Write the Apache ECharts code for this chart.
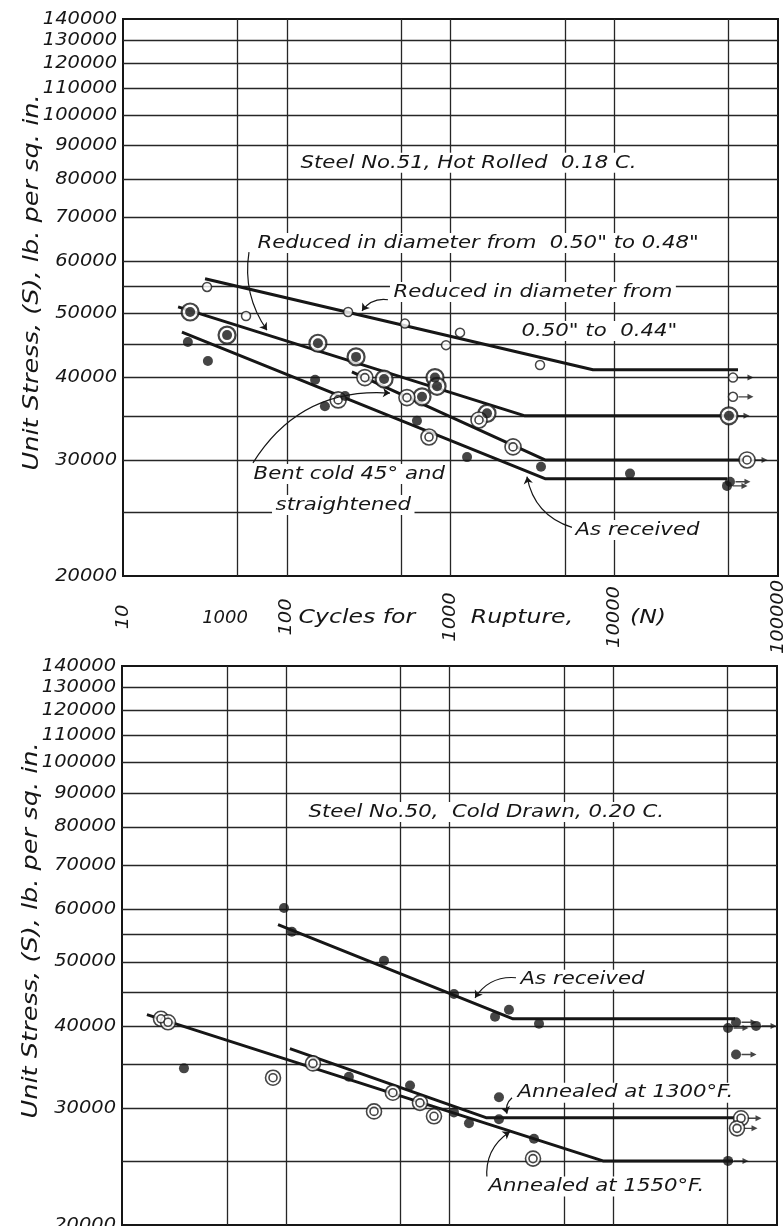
<!DOCTYPE html>
<html>
<head>
<meta charset="utf-8">
<title>S-N diagrams, Steel No.51 and Steel No.50</title>
<script src="https://cdn.jsdelivr.net/npm/echarts@6/dist/echarts.min.js"></script>
<style>
  html, body { margin: 0; padding: 0; background: #fff; }
  #chart { width: 783px; height: 1226px; }
</style>
</head>
<body>
<div id="chart"></div>
<script>
// ---------- axes ----------
const xDecades = [10, 100, 1000, 10000, 100000];
const xDecadeLabels = ['10', '100', '1000', '10000', '100000'];
const xMinorTop = [50, 500, 5000, 50000];
const xMinorBottom = [44, 500, 5000, 50000];
const yGridValues = [25000, 30000, 35000, 40000, 45000, 50000, 55000, 60000,
  70000, 80000, 90000, 100000, 110000, 120000, 130000];
const yLabelValues = [20000, 30000, 40000, 50000, 60000, 70000, 80000, 90000,
  100000, 110000, 120000, 130000, 140000];

// ---------- Steel No.51, hot rolled: test points [N, S] ----------
const s51Reduced044 = [[32.6, 54900], [56.4, 49600], [237, 50300], [527, 48300],
  [1143, 46800], [939, 44800], [3521, 41800]];
const s51Reduced044Runout = [[53100, 40000], [53100, 37400]];
const s51Reduced048 = [[25.7, 50300], [43.2, 46400], [155, 45100], [265, 43000],
  [393, 39800], [804, 40000], [828, 38800], [670, 37400], [1671, 35300]];
const s51Reduced048Runout = [[50200, 35000]];
const s51BentCold = [[300, 40000], [206, 37000], [542, 37300], [739, 32500],
  [1493, 34500], [2409, 31400]];
const s51BentColdRunout = [[64700, 30000]];
const s51AsReceived = [[24.9, 45300], [33.0, 42400], [149, 39700], [171, 36200],
  [227, 37500], [624, 34400], [1262, 30300], [3570, 29300], [12480, 28600]];
const s51AsReceivedRunout = [[48800, 27400], [50900, 27800]];

// Steel No.51 fitted S-N lines
const s51Curve044 = [[31.7, 56500], [7413, 41100], [57000, 41100]];
const s51Curve048 = [[21.7, 51200], [2851, 35000], [54600, 35000]];
const s51CurveBent = [[250, 40800], [3776, 30000], [62900, 30000]];
const s51CurveAsReceived = [[22.9, 46900], [3776, 28100], [48800, 28100]];

// ---------- Steel No.50, cold drawn: test points [N, S] ----------
const s50AsReceived = [[97.6, 60300], [109, 55500], [398, 50200], [1065, 44700],
  [1897, 41300], [2307, 42300], [3521, 40300]];
const s50AsReceivedRunout = [[50200, 39700], [56200, 40500], [74500, 40000], [56200, 36200]];
const s50Rings = [[17.3, 41000], [19.1, 40500], [83.6, 33400], [146.6, 35100],
  [451, 31700], [346, 29700], [660, 30600], [804, 29200], [3236, 25200]];
const s50RingsRunout = [[60300, 29000], [57000, 28000]];
const s50Dots = [[23.9, 34500], [243, 33500], [574, 32500], [1065, 29600],
  [1315, 28500], [2005, 31200], [2005, 28900], [3281, 27000]];
const s50DotsRunout = [[50200, 25000]];

// Steel No.50 fitted S-N lines
const s50CurveAsReceived = [[89.7, 56900], [2443, 41000], [55400, 41000]];
const s50Curve1300 = [[106, 36950], [1671, 29060], [55400, 29060]];
const s50Curve1550 = [[14.2, 41600], [8650, 25000], [53900, 25000]];

// ---------- text ----------
const yAxisTitle = 'Unit Stress, (S), lb. per sq. in.';
const xTitleParts = [['1000', 42], ['Cycles for', 268], ['Rupture,', 2733], ['(N)', 16070]];

const notesTop = [
  ['Steel No.51, Hot Rolled  0.18 C.', 115.5, 84700],
  ['Reduced in diameter from  0.50" to 0.48"', 63.1, 64000],
  ['Reduced in diameter from', 427, 53960],
  ['0.50" to  0.44"', 2584, 47080],
  ['Bent cold 45° and', 59.7, 28560],
  ['straightened', 81.3, 25640],
  ['As received', 5520, 23480]
];
const notesBottom = [
  ['Steel No.50,  Cold Drawn, 0.20 C.', 131, 84230],
  ['As received', 2584, 46960],
  ['Annealed at 1300°F.', 2477, 31700],
  ['Annealed at 1550°F.', 1648, 22860]
];

// leader arrows: [from, to, curveness]
const leadersTop = [
  [[58.8, 62000], [75.7, 47200], -0.2],
  [[415, 52500], [288, 50500], -0.3],
  [[62.2, 29700], [427, 37900], 0.3],
  [[5520, 23700], [2931, 28300], 0.3]
];
const leadersBottom = [
  [[2547, 47300], [1432, 44100], -0.3],
  [[2409, 31150], [2244, 29470], -0.3],
  [[1694, 23430], [2339, 27680], 0.3]
];

// ---------- drawing ----------
const INK = '#161616';
const FONT = '"DejaVu Sans", sans-serif';
const X_MIN = 10, X_MAX = 100000, Y_MIN = 20000, Y_MAX = 140000;
const GRIDS = [
  { left: 123, top: 19, width: 655, height: 557 },
  { left: 122, top: 666, width: 655, height: 559 }
];
const ARROW = 'path://M0,2.3 L9,2.3 L9,0 L15,3 L9,6 L9,3.7 L0,3.7 Z';

function rulings(minors) {
  const d = [];
  yGridValues.forEach(v => d.push({ coords: [[X_MIN, v], [X_MAX, v]] }));
  xDecades.slice(1, -1).concat(minors).forEach(v => d.push({ coords: [[v, Y_MIN], [v, Y_MAX]] }));
  return d;
}
function base(gi) {
  return { xAxisIndex: gi, yAxisIndex: gi, silent: true, animation: false };
}
function gridSeries(gi, minors) {
  return Object.assign(base(gi), {
    type: 'lines', coordinateSystem: 'cartesian2d', z: 1,
    symbol: ['none', 'none'],
    lineStyle: { color: '#262626', width: 1.3, opacity: 1 },
    data: rulings(minors)
  });
}
function curve(gi, data) {
  return Object.assign(base(gi), {
    type: 'line', data, symbol: 'none', z: 3,
    lineStyle: { color: INK, width: 3 }
  });
}
function dots(gi, data, size, z) {
  return Object.assign(base(gi), {
    type: 'scatter', data, symbol: 'circle', symbolSize: size, z: z || 5,
    itemStyle: { color: INK }
  });
}
function ring(gi, data, size, bw, z) {
  return Object.assign(base(gi), {
    type: 'scatter', data, symbol: 'circle', symbolSize: size, z: z || 4,
    itemStyle: { color: '#fff', borderColor: INK, borderWidth: bw }
  });
}
function arrows(gi, data) {
  return Object.assign(base(gi), {
    type: 'scatter', data, symbol: ARROW, symbolSize: [15, 6], symbolOffset: [13, 0], z: 3,
    itemStyle: { color: INK }
  });
}
function leaders(gi, list) {
  return Object.assign(base(gi), {
    type: 'lines', coordinateSystem: 'cartesian2d', z: 6,
    symbol: ['none', 'arrow'], symbolSize: 7,
    lineStyle: { color: INK, width: 1.2, opacity: 1 },
    data: list.map(l => ({ coords: [l[0], l[1]], lineStyle: { curveness: l[2] } }))
  });
}
// marker styles
function openCircle(gi, data) { return [ring(gi, data, 9, 1.5)]; }
function filledDot(gi, data) { return [dots(gi, data, 10)]; }
function bullsEye(gi, data) { return [ring(gi, data, 17, 2.2, 4), dots(gi, data, 10, 5)]; }
function doubleRing(gi, data, outer) {
  return [ring(gi, data, outer || 16, 1.6, 4), ring(gi, data, 8, 1.6, 5)];
}

const series = [].concat(
  gridSeries(0, xMinorTop),
  gridSeries(1, xMinorBottom),
  curve(0, s51Curve044), curve(0, s51Curve048), curve(0, s51CurveBent), curve(0, s51CurveAsReceived),
  curve(1, s50CurveAsReceived), curve(1, s50Curve1300), curve(1, s50Curve1550),
  arrows(0, s51Reduced044Runout.concat(s51Reduced048Runout, s51BentColdRunout, s51AsReceivedRunout)),
  arrows(1, s50AsReceivedRunout.concat(s50RingsRunout, s50DotsRunout)),
  openCircle(0, s51Reduced044.concat(s51Reduced044Runout)),
  bullsEye(0, s51Reduced048.concat(s51Reduced048Runout)),
  doubleRing(0, s51BentCold.concat(s51BentColdRunout)),
  filledDot(0, s51AsReceived.concat(s51AsReceivedRunout)),
  filledDot(1, s50AsReceived.concat(s50AsReceivedRunout)),
  doubleRing(1, s50Rings.concat(s50RingsRunout), 15),
  filledDot(1, s50Dots.concat(s50DotsRunout)),
  leaders(0, leadersTop),
  leaders(1, leadersBottom)
);

function axisPair(gi) {
  const hidden = { show: false };
  return {
    x: { type: 'log', logBase: 10, gridIndex: gi, min: X_MIN, max: X_MAX,
      axisLine: hidden, axisTick: hidden, axisLabel: hidden, splitLine: hidden, minorSplitLine: hidden },
    y: { type: 'log', logBase: 10, gridIndex: gi, min: Y_MIN, max: Y_MAX,
      axisLine: hidden, axisTick: hidden, axisLabel: hidden, splitLine: hidden, minorSplitLine: hidden }
  };
}
const a0 = axisPair(0), a1 = axisPair(1);

const chart = echarts.init(document.getElementById('chart'), null, { renderer: 'canvas' });
chart.setOption({
  backgroundColor: '#fff',
  animation: false,
  grid: GRIDS.map(g => Object.assign({ show: true, borderColor: INK, borderWidth: 2,
    backgroundColor: 'transparent', containLabel: false }, g)),
  xAxis: [a0.x, a1.x],
  yAxis: [a0.y, a1.y],
  series
});

// ---------- labels placed through the axes ----------
// hand lettering runs wider than the screen font, so text is stretched along its baseline
const toPx = (gi, pt) => chart.convertToPixel({ gridIndex: gi }, pt);
const font = size => 'italic ' + size + 'px ' + FONT;
const graphics = [];

function text(x, y, str, size, opts) {
  opts = opts || {};
  graphics.push({
    type: 'text', x, y, z: 20, silent: true,
    rotation: opts.rotation || 0,
    scaleX: opts.stretch || 1,
    style: Object.assign({ text: str, font: font(size), fill: INK,
      textAlign: 'left', textVerticalAlign: 'middle', verticalAlign: 'middle' }, opts.style || {})
  });
}

[0, 1].forEach(gi => {
  yLabelValues.forEach(v => {
    const p = toPx(gi, [X_MIN, v]);
    text(p[0] - 6, p[1], String(v), 18, { stretch: 1.08, style: { textAlign: 'right' } });
  });
  const g = GRIDS[gi];
  text(g.left - 90, g.top + g.height * 0.473, yAxisTitle, 21,
    { rotation: Math.PI / 2, stretch: 1.22, style: { textAlign: 'center' } });
});

xDecades.forEach((v, i) => {
  const p = toPx(0, [v, Y_MIN]);
  text(p[0], p[1] + 41, xDecadeLabels[i], 18,
    { rotation: Math.PI / 2, stretch: 1.08, style: { textAlign: 'center' } });
});
xTitleParts.forEach(([str, v]) => {
  const p = toPx(0, [v, Y_MIN]);
  text(p[0], p[1] + 42, str, str === '1000' ? 18 : 20,
    { stretch: str === '1000' ? 1 : 1.18, style: { textAlign: 'center' } });
});

function notes(gi, list) {
  list.forEach(([str, x, y]) => {
    const p = toPx(gi, [x, y]);
    text(p[0], p[1], str, 18, { stretch: 1.18, style: { backgroundColor: '#fff', padding: [1, 3] } });
  });
}
notes(0, notesTop);
notes(1, notesBottom);

chart.setOption({ graphic: { elements: graphics } });
</script>
</body>
</html>
